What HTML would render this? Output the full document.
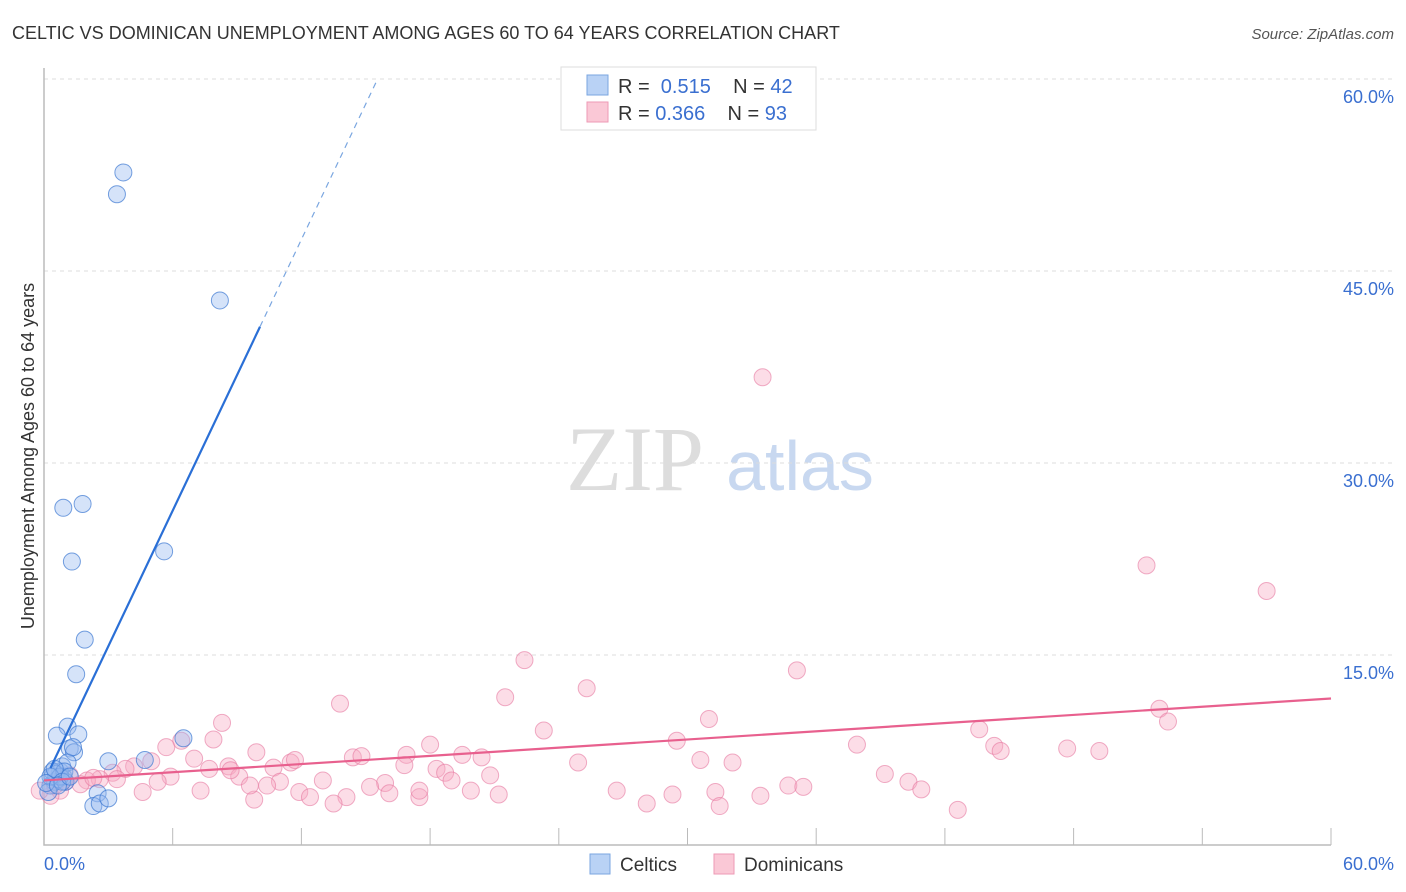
<!DOCTYPE html>
<html><head><meta charset="utf-8"><style>
body{margin:0;background:#fff;font-family:"Liberation Sans",sans-serif;}
svg{display:block}
</style></head><body>
<svg id="chart" width="1406" height="892">
<text x="12" y="39" font-size="18" fill="#333">CELTIC VS DOMINICAN UNEMPLOYMENT AMONG AGES 60 TO 64 YEARS CORRELATION CHART</text>
<text x="1394" y="39" font-size="15" fill="#555" font-style="italic" text-anchor="end">Source: ZipAtlas.com</text>
<text x="34" y="456" font-size="18" fill="#333" text-anchor="middle" transform="rotate(-90 34 456)">Unemployment Among Ages 60 to 64 years</text>
<text x="635" y="490" font-size="92" fill="#ddd" font-family="Liberation Serif,serif" text-anchor="middle">ZIP</text>
<text x="800" y="490" font-size="70" fill="#c8d8f0" text-anchor="middle">atlas</text>
<g id="grid"></g><g id="pts"></g><g id="lines"></g>
<g>
<rect x="561" y="67" width="255" height="63" fill="#fff" stroke="#ddd"/>
<rect x="587" y="75" width="21" height="20" fill="#b9d2f5" stroke="#7aa6e0"/>
<rect x="587" y="102" width="21" height="20" fill="#fac8d6" stroke="#ee9ab5"/>
<text x="618" y="93" font-size="20" fill="#333">R = <tspan fill="#3a6fd0">&#160;0.515</tspan>&#160;&#160;&#160; N = <tspan fill="#3a6fd0">42</tspan></text>
<text x="618" y="120" font-size="20" fill="#333">R = <tspan fill="#3a6fd0">0.366</tspan>&#160;&#160;&#160; N = <tspan fill="#3a6fd0">93</tspan></text>
</g>
<g>
<rect x="590" y="854" width="20" height="20" fill="#b9d2f5" stroke="#7aa6e0"/>
<text x="620" y="871" font-size="19" fill="#333">Celtics</text>
<rect x="714" y="854" width="20" height="20" fill="#fac8d6" stroke="#ee9ab5"/>
<text x="744" y="871" font-size="19" fill="#333">Dominicans</text>
</g>
</svg>
<script>
const yTicks=[15,30,45,60];
const xTickLabels=["0.0%","60.0%"];
const celticX=[3.7,3.4,8.2,0.9,1.8,1.3,5.6,1.9,1.5,1.1,0.6,1.6,1.2,1.4,3.0,4.7,6.5,0.75,0.85,0.4,0.5,0.3,0.65,0.9,0.2,1.0,2.5,2.3,2.6,3.0,0.55,0.4,0.75,1.1,1.35,0.95,0.3,0.1,0.5,0.85,0.65,1.2];
const celticY=[52.7,51.0,42.7,26.5,26.8,22.3,23.1,16.2,13.5,9.4,8.7,8.8,7.7,7.4,6.7,6.8,8.5,5.9,6.3,5.5,5.1,4.8,5.3,5.5,4.3,5.1,4.2,3.2,3.4,3.8,5.7,5.9,5.5,6.6,7.8,5.9,5.5,5.0,6.1,5.1,4.8,5.5];
const domX=[33.5,51.4,57.0,22.4,35.1,25.3,21.5,13.8,52.0,31.0,52.4,8.3,23.3,43.6,29.5,37.9,6.4,7.9,44.3,44.6,47.7,49.2,18.0,14.4,14.8,16.9,19.5,20.4,9.9,11.5,11.7,24.9,30.6,32.1,5.7,7.0,5.0,4.2,3.8,3.2,2.6,2.0,1.2,1.0,7.7,8.6,9.1,10.7,11.0,8.7,5.9,5.3,3.4,13.0,15.9,16.8,18.3,18.7,19.0,20.8,39.2,40.3,40.9,26.7,29.3,31.3,34.7,35.4,15.2,11.9,12.4,14.1,16.1,17.5,19.9,21.2,4.6,7.3,9.8,13.5,28.1,31.5,33.4,42.6,0.75,0.3,0.5,1.7,2.3,10.4,-0.2,9.6,17.5];
const domY=[36.7,22.0,20.0,14.6,13.8,12.4,11.7,11.2,10.8,10.0,9.8,9.7,9.1,9.2,8.3,8.0,8.3,8.4,7.9,7.5,7.7,7.5,8.0,7.0,7.1,7.2,7.2,7.0,7.4,6.6,6.8,6.6,6.8,6.6,7.8,6.9,6.7,6.3,6.1,5.8,5.3,5.2,5.6,5.1,6.1,6.3,5.5,6.2,5.1,6.0,5.5,5.1,5.3,5.2,5.0,6.4,6.1,5.8,5.2,5.6,5.7,5.1,4.5,4.4,4.1,4.3,4.8,4.7,4.7,4.3,3.9,3.9,4.2,3.9,4.4,4.1,4.3,4.4,3.7,3.4,3.4,3.2,4.0,2.9,4.4,4.0,4.8,4.9,5.4,4.8,4.4,4.8,4.4];
const X0=44,PXX=21.45,Y0=847,PXY=12.8;
const sx=v=>X0+v*PXX, sy=v=>Y0-v*PXY;
const NS="http://www.w3.org/2000/svg";
function mk(t,a,p){const e=document.createElementNS(NS,t);for(const k in a)e.setAttribute(k,a[k]);p.appendChild(e);return e;}
const grid=document.getElementById('grid');
yTicks.forEach(v=>{
 const l=mk('line',{x1:44,x2:1394,y1:sy(v),y2:sy(v),stroke:'#ddd','stroke-dasharray':'4,4'},grid);
 
 
 const t=mk('text',{x:1394,y:sy(v)+24,'font-size':18,fill:'#3a6fd0','text-anchor':'end'},grid);
 t.textContent=v.toFixed(1)+'%';
 
 
});
const ax=mk('path',{d:'M44 68V845H1331',stroke:'#bbb',fill:'none','stroke-width':1.5},grid);


for(let i=1;i<=10;i++){const tk=mk('line',{x1:sx(i*6),x2:sx(i*6),y1:828,y2:845,stroke:'#bbb'},grid);
 
 }
[[0,'start',44],[1,'end',1394]].forEach(([i,a,x])=>{const t=mk('text',{x:x,y:870,'font-size':18,fill:'#3a6fd0','text-anchor':a},grid);t.textContent=xTickLabels[i];
 
 });
const pts=document.getElementById('pts');
domX.forEach((x,i)=>{const c=mk('circle',{cx:sx(x),cy:sy(domY[i]),r:8.5,fill:'rgba(248,170,195,0.4)',stroke:'rgba(230,120,160,0.6)'},pts);
 
 });
celticX.forEach((x,i)=>{const c=mk('circle',{cx:sx(x),cy:sy(celticY[i]),r:8.5,fill:'rgba(150,185,240,0.4)',stroke:'rgba(60,120,210,0.7)'},pts);
 
 });
const lines=document.getElementById('lines');
const bf=x=>5.1+3.53*x;
let l=mk('line',{x1:sx(0.3),y1:sy(bf(0.3)),x2:sx(10.07),y2:sy(bf(10.07)),stroke:'#2a6fd6','stroke-width':2.2},lines);


l=mk('line',{x1:sx(10.07),y1:sy(bf(10.07)),x2:sx(15.55),y2:sy(bf(15.55)),stroke:'#7aa6e0','stroke-width':1.2,'stroke-dasharray':'6,5'},lines);


l=mk('line',{x1:sx(0),y1:sy(5.2),x2:sx(60),y2:sy(11.6),stroke:'#e8608e','stroke-width':2.2},lines);


</script>
</body></html>
